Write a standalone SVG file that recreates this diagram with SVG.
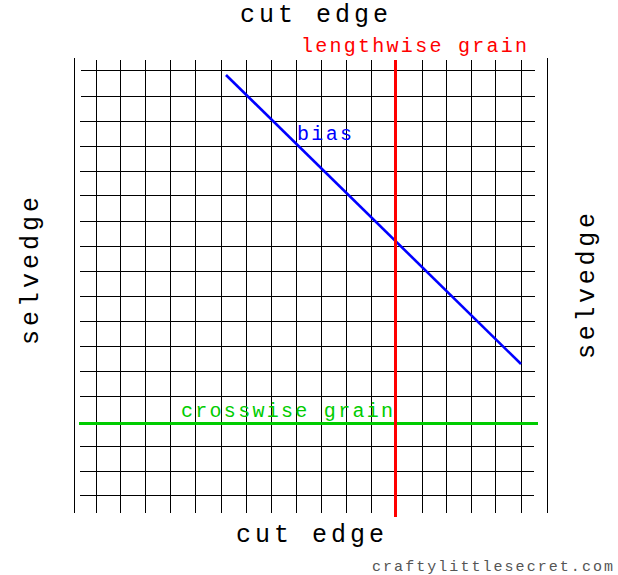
<svg xmlns="http://www.w3.org/2000/svg" width="618" height="575" viewBox="0 0 618 575">
<style>
.g line{stroke:#000;stroke-width:1}
.t{font-family:"Liberation Mono","DejaVu Sans Mono",monospace}
</style>
<rect width="618" height="575" fill="#fff"/>
<g id="grid" class="g">
<line x1="74.5" y1="58" x2="74.5" y2="513" stroke-width="1.4"/>
<line x1="547.5" y1="58" x2="547.5" y2="513" stroke-width="1.4"/>
<line x1="96.5" y1="60" x2="96.5" y2="513"/>
<line x1="120.5" y1="60" x2="120.5" y2="513"/>
<line x1="145.5" y1="60" x2="145.5" y2="513"/>
<line x1="170.5" y1="60" x2="170.5" y2="513"/>
<line x1="195.5" y1="60" x2="195.5" y2="513"/>
<line x1="221.5" y1="60" x2="221.5" y2="513"/>
<line x1="246.5" y1="60" x2="246.5" y2="513"/>
<line x1="271.5" y1="60" x2="271.5" y2="513"/>
<line x1="296.5" y1="60" x2="296.5" y2="513"/>
<line x1="321.5" y1="60" x2="321.5" y2="513"/>
<line x1="346.5" y1="60" x2="346.5" y2="513"/>
<line x1="371.5" y1="60" x2="371.5" y2="513"/>
<line x1="422.5" y1="60" x2="422.5" y2="513"/>
<line x1="446.5" y1="60" x2="446.5" y2="513"/>
<line x1="471.5" y1="60" x2="471.5" y2="513"/>
<line x1="495.5" y1="60" x2="495.5" y2="513"/>
<line x1="521.5" y1="60" x2="521.5" y2="513"/>
<line x1="81" y1="70.5" x2="535" y2="70.5"/>
<line x1="81" y1="96.5" x2="535" y2="96.5"/>
<line x1="80" y1="121.5" x2="535" y2="121.5"/>
<line x1="80" y1="146.5" x2="535" y2="146.5"/>
<line x1="80" y1="171.5" x2="535" y2="171.5"/>
<line x1="80" y1="195.5" x2="535" y2="195.5"/>
<line x1="80" y1="221.5" x2="535" y2="221.5"/>
<line x1="80" y1="246.5" x2="535" y2="246.5"/>
<line x1="80" y1="271.5" x2="535" y2="271.5"/>
<line x1="80" y1="296.5" x2="535" y2="296.5"/>
<line x1="80" y1="321.5" x2="535" y2="321.5"/>
<line x1="80" y1="346.5" x2="535" y2="346.5"/>
<line x1="80" y1="371.5" x2="535" y2="371.5"/>
<line x1="80" y1="396.5" x2="535" y2="396.5"/>
<line x1="80" y1="446.5" x2="534" y2="446.5"/>
<line x1="80" y1="471.5" x2="534" y2="471.5"/>
<line x1="80" y1="495.5" x2="534" y2="495.5"/>
</g>
<g id="connectors">
<line id="bias-line" x1="226" y1="75" x2="521" y2="364" stroke="#0000ff" stroke-width="2.6"/>
<line id="crosswise-line" x1="79" y1="423.5" x2="538" y2="423.5" stroke="#00cc00" stroke-width="3"/>
<line id="lengthwise-line" x1="395.5" y1="60" x2="395.5" y2="517" stroke="#ff0000" stroke-width="3"/>
</g>
<g id="labels" class="t">
<text x="240" y="22" font-size="25" textLength="148" lengthAdjust="spacing">cut edge</text>
<text x="236" y="542" font-size="25" textLength="148" lengthAdjust="spacing">cut edge</text>
<text x="301" y="52" font-size="20" fill="#ff0000" textLength="226" lengthAdjust="spacing">lengthwise grain</text>
<text x="297" y="140" font-size="20" fill="#0000ff" textLength="55" lengthAdjust="spacing">bias</text>
<text x="181" y="417" font-size="20" fill="#00cc00" textLength="212" lengthAdjust="spacing">crosswise grain</text>
<text transform="translate(38,345) rotate(-90)" font-size="25" textLength="148" lengthAdjust="spacing">selvedge</text>
<text transform="translate(594,359) rotate(-90)" font-size="25" textLength="146" lengthAdjust="spacing">selvedge</text>
<text x="372" y="571" font-size="15" fill="#555" textLength="241" lengthAdjust="spacing">craftylittlesecret.com</text>
</g>
</svg>
